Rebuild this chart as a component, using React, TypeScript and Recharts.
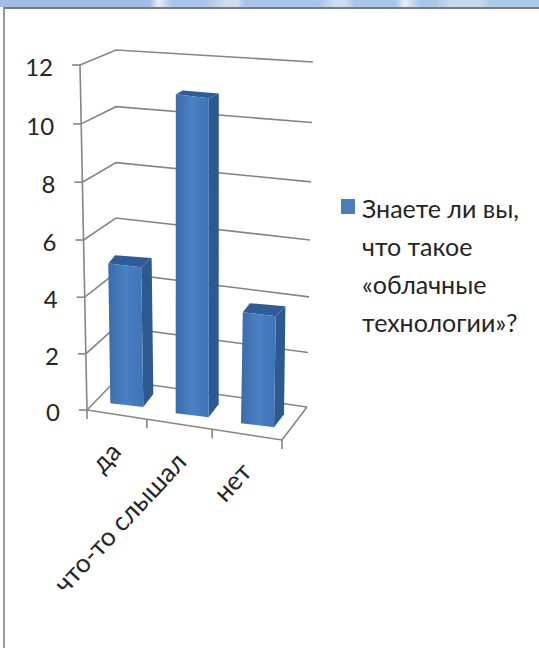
import React from "react";
import { Bar, BarChart, CartesianGrid, Legend, XAxis, YAxis } from "recharts";

const categories = ["да", "что-то слышал", "нет"];
const answers = [5, 11, 4];
const seriesName = "Знаете ли вы,\nчто такое\n«облачные\nтехнологии»?";
const valueTicks = [0, 2, 4, 6, 8, 10, 12];

const rows = categories.map((name, i) => ({ name, answers: answers[i] }));

const FONT = "Lato, 'Open Sans', sans-serif";
const TEXT = "#252525";
const LINE = "#858585";
const LINE_W = 1.6;

// flat plot rectangle the library lays out; everything 3D is projected from it
const PLOT_LEFT = 94;
const PLOT_RIGHT = 290;
const PLOT_TOP = 65;
const PLOT_BOTTOM = 410;
const CHART_W = 539;
const CHART_H = 648;
const LEGEND_W = 198;

const level = (y: number) => (PLOT_BOTTOM - y) / (PLOT_BOTTOM - PLOT_TOP);

// corners of the box at a given height (0..1)
const frontLeft = (t: number) => [87 - 7 * t, 410 - 335 * t - 10 * t * t];
const backLeft = (t: number) => [116, 380 - 318 * t - 12 * t * t];
const backRight = (t: number) => [307 + 6 * t, 407 - 323 * t - 22 * t * t];
const FRONT_RIGHT = [282, 440];

const floorY = (x: number) => 410 + (x - 87) * 0.154;
const pts = (list: number[][]) => list.map((p) => p.join(",")).join(" ");

function WallLine(props: any) {
  const t = level(props.y1);
  const isFloor = t < 0.001;
  return (
    <g key={props.key} fill="none" stroke={LINE} strokeWidth={LINE_W}>
      <polyline points={pts([frontLeft(t), backLeft(t), backRight(t)])} />
      {isFloor && (
        <>
          <polyline points={pts([frontLeft(0), FRONT_RIGHT, backRight(0)])} />
          <line x1={frontLeft(1)[0]} y1={frontLeft(1)[1]} x2={frontLeft(0)[0]} y2={frontLeft(0)[1]} />
        </>
      )}
    </g>
  );
}

function ValueTick(props: any) {
  const [x, y] = frontLeft(level(props.y));
  return (
    <g>
      <line x1={x - 8} y1={y} x2={x} y2={y} stroke={LINE} strokeWidth={LINE_W} />
      <text x={x - 27} y={y + 5} textAnchor="end" dominantBaseline="middle" fontFamily={FONT} fontSize={24} fill={TEXT}>
        {props.payload.value}
      </text>
    </g>
  );
}

function CategoryTick(props: any) {
  const cx = props.x;
  const band = (PLOT_RIGHT - PLOT_LEFT) / categories.length;
  const x = cx - 4;
  const y = floorY(cx) + 37;
  const edge = cx + band / 2 - 12.5;
  const isLast = props.index === categories.length - 1;
  const tx = isLast ? FRONT_RIGHT[0] : edge;
  return (
    <g>
      <line x1={tx} y1={floorY(tx)} x2={tx} y2={floorY(tx) + 9} stroke={LINE} strokeWidth={LINE_W} />
      {props.index === 0 && (
        <line x1={87} y1={410} x2={87} y2={419} stroke={LINE} strokeWidth={LINE_W} />
      )}
      <text
        x={x}
        y={y}
        textAnchor="end"
        fontFamily={FONT}
        fontSize={26}
        fill={TEXT}
        transform={`rotate(-47 ${x} ${y})`}
      >
        {props.payload.value}
      </text>
    </g>
  );
}

function Column(props: any) {
  const { x, y, width, index } = props;
  const t = level(y);
  const cx = x + width / 2;
  const bottom = floorY(cx) - 11;
  const rise = 325 * t + 25 * t * t;
  const lean = (cx - 190) * 0.08 * t;
  const half = width / 2;
  const slope = 0.12 * half;

  const fl = [cx - half, bottom - slope];
  const fr = [cx + half, bottom + slope];
  const tl = [cx - half + lean, bottom - rise - slope];
  const tr = [cx + half + lean, bottom - rise + slope];

  const depthX = 10;
  const depthBase = 13;
  const depthTop = 13 - 9 * t;
  const br = [fr[0] + depthX, fr[1] - depthBase];
  const ttr = [tr[0] + depthX - lean * 0.2, tr[1] - depthTop];
  const ttl = [tl[0] + depthX - 3, tl[1] - depthTop + 1];
  const faceId = `columnFront${index}`;

  return (
    <g>
      <defs>
        <linearGradient id={faceId} x1="0" y1="0" x2="1" y2="0">
          <stop offset="0%" stopColor="#3a6cab" />
          <stop offset="50%" stopColor="#4a80c4" />
          <stop offset="100%" stopColor="#3f74b6" />
        </linearGradient>
      </defs>
      <polygon points={pts([fr, br, ttr, tr])} fill="#2c5a90" />
      <polygon points={pts([tl, ttl, ttr, tr])} fill="#2d5c96" />
      <polygon points={pts([fl, fr, tr, tl])} fill={`url(#${faceId})`} />
    </g>
  );
}

function LegendBox({ payload }: any) {
  const item = payload?.[0];
  if (!item) return null;
  return (
    <div style={{ display: "flex", alignItems: "flex-start", fontFamily: FONT, fontSize: 25, color: TEXT }}>
      <span style={{ width: 14, height: 15, marginTop: 10, marginRight: 7, background: "#4a7ebb", flex: "none" }} />
      <span style={{ whiteSpace: "pre-line", lineHeight: "38px" }}>{item.value}</span>
    </div>
  );
}

const BAND_COLORS =
  "linear-gradient(90deg, #a3bbe8 0 150px, #e8eef8 158px, #a9c3ea 172px 205px, #cfdcf0 225px 238px, #a7c4ea 245px 318px, #cddcf0 335px 345px, #a7c6ea 355px 395px, #e6eef8 405px, #a8c8e8 420px 435px, #c6d8ec 450px 480px, #a8cce8 490px)";

export default function App() {
  return (
    <div style={{ position: "absolute", left: 0, top: 0, width: CHART_W, height: CHART_H, background: "#fff", overflow: "hidden" }}>
      <div style={{ position: "absolute", left: 0, top: 0, width: CHART_W, height: 7, background: BAND_COLORS }} />
      <div style={{ position: "absolute", left: 3, top: 7, width: CHART_W, height: CHART_H, borderLeft: "2px solid #9a9a9a", borderTop: "2px solid #7a7a7a" }} />
      <BarChart
        width={CHART_W}
        height={CHART_H}
        data={rows}
        barCategoryGap="25%"
        margin={{ left: 0, top: PLOT_TOP, right: CHART_W - PLOT_RIGHT - LEGEND_W, bottom: 0 }}
      >
        <CartesianGrid vertical={false} horizontal={(p: any) => <WallLine {...p} />} />
        <XAxis dataKey="name" height={CHART_H - PLOT_BOTTOM} axisLine={false} tickLine={false} interval={0} tick={(p: any) => <CategoryTick {...p} />} />
        <YAxis width={PLOT_LEFT} domain={[0, 12]} ticks={valueTicks} axisLine={false} tickLine={false} tick={(p: any) => <ValueTick {...p} />} />
        <Legend layout="vertical" align="right" verticalAlign="top" width={LEGEND_W} wrapperStyle={{ left: 341, top: 189, right: "auto" }} content={(p: any) => <LegendBox {...p} />} />
        <Bar dataKey="answers" name={seriesName} fill="#4a7ebb" isAnimationActive={false} shape={(p: any) => <Column {...p} />} />
      </BarChart>
    </div>
  );
}
